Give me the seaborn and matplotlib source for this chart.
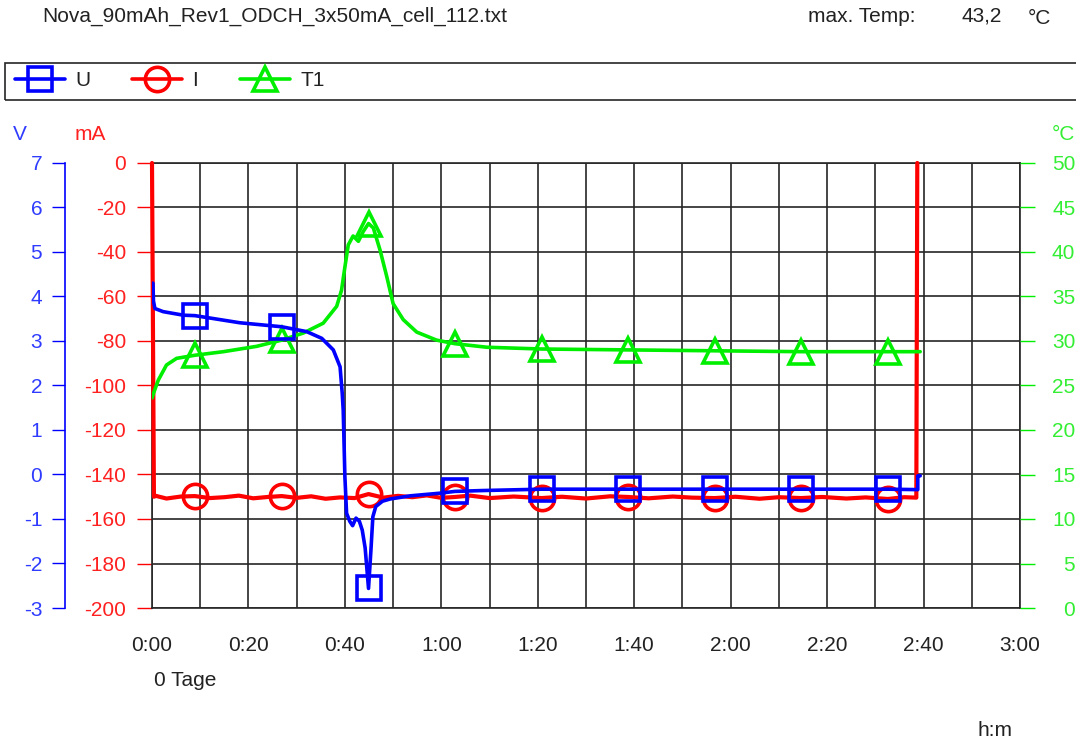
import matplotlib
matplotlib.use("Agg")
import matplotlib.pyplot as plt
import matplotlib.ticker as mticker
from matplotlib.lines import Line2D
from matplotlib.patches import Rectangle
import seaborn as sns

# ---------------- data ----------------
title_text = "Nova_90mAh_Rev1_ODCH_3x50mA_cell_112.txt"
max_temp_label = "max. Temp:"
max_temp_value = "43,2"
max_temp_unit = "°C"

x_tick_minutes = [0, 20, 40, 60, 80, 100, 120, 140, 160, 180]
x_tick_labels = ["0:00", "0:20", "0:40", "1:00", "1:20", "1:40", "2:00", "2:20", "2:40", "3:00"]
v_ticks = [-3, -2, -1, 0, 1, 2, 3, 4, 5, 6, 7]
i_ticks = [-200, -180, -160, -140, -120, -100, -80, -60, -40, -20, 0]
t_ticks = [0, 5, 10, 15, 20, 25, 30, 35, 40, 45, 50]

marker_minutes = [8.9, 26.9, 44.9, 62.8, 80.8, 98.7, 116.7, 134.6, 152.6]

# Voltage U (V) vs time (min)
U_t = [0.2, 0.3, 0.6, 2.3, 6.5, 8.9, 18.2, 26.9, 32.1, 35.2, 37.6, 39.0, 39.45, 39.65,
       40.0, 40.35, 41.0, 41.6, 42.3, 43.0, 43.6, 44.2, 44.9, 45.4, 45.8, 46.4, 47.8,
       49.4, 53.5, 59.7, 62.8, 68.7, 80.8, 98.7, 116.7, 134.6, 152.6, 158.8, 158.8, 159.3]
U_v = [4.30, 3.90, 3.73, 3.66, 3.58, 3.57, 3.41, 3.32, 3.21, 3.06, 2.80, 2.42, 1.82, 1.45,
       -0.05, -0.87, -1.05, -1.15, -0.98, -1.05, -1.25, -1.65, -2.56, -1.70, -0.95, -0.72, -0.60,
       -0.55, -0.48, -0.42, -0.38, -0.36, -0.33, -0.33, -0.33, -0.33, -0.33, -0.34, -0.03, -0.03]

# Current I (mA) vs time (min)
I_t = [0.0, 0.4, 0.8, 3, 6, 8.9, 12, 15, 18, 21, 24, 26.9, 30, 33, 36, 39, 42, 44.9, 48,
       51, 54, 57, 60, 62.8, 66, 70, 75, 80.8, 85, 90, 95, 98.7, 103, 108, 112, 116.7,
       121, 126, 130, 134.6, 139, 144, 148, 152.6, 156, 158.5, 158.7]
I_v = [0.0, -150.0, -149.6, -150.8, -149.9, -149.7, -150.6, -150.2, -149.5, -150.7, -150.1,
       -149.7, -150.5, -149.8, -150.9, -150.3, -150.6, -148.8, -150.4, -149.6, -150.2, -149.4,
       -150.5, -150.1, -149.5, -150.6, -149.9, -150.6, -150.0, -150.8, -149.8, -150.1, -150.7,
       -149.9, -150.4, -150.6, -150.0, -150.9, -150.2, -150.6, -150.1, -150.8, -150.3, -151.0,
       -150.2, -150.4, 0.0]

# Temperature T1 (°C) vs time (min)
T_t = [0.0, 0.3, 1.3, 3.0, 5.1, 8.9, 14.8, 21.7, 26.9, 31.4, 35.5, 38.3, 39.3, 40.0, 40.7,
       41.7, 42.8, 43.8, 44.9, 45.9, 47.3, 48.7, 50.0, 52.1, 54.9, 59.0, 62.8, 69.4, 80.8,
       98.7, 116.7, 134.6, 152.6, 159.3]
T_v = [23.6, 24.1, 25.6, 27.3, 28.05, 28.4, 28.8, 29.4, 30.1, 30.9, 32.0, 33.9, 35.7, 38.3,
       40.8, 41.8, 41.2, 42.3, 43.2, 42.7, 40.2, 37.2, 34.2, 32.4, 31.0, 30.1, 29.7, 29.3,
       29.1, 29.0, 28.9, 28.8, 28.8, 28.8]

# ---------------- styling ----------------
sns.set_style("white")
plt.rcParams["font.family"] = ["Liberation Sans", "DejaVu Sans"]
plt.rcParams["font.size"] = 15
plt.rcParams["axes.unicode_minus"] = False

BLUE = "#0000ff"
RED = "#ff0000"
GREEN = "#00ee00"
TXT = "#222222"
BLUE_T = "#2f3cff"
RED_T = "#ff2020"
GREEN_T = "#33ee33"

W, H = 1076, 743
fig = plt.figure(figsize=(W / 100, H / 100), dpi=100)
L, R, T, B = 152, 1020, 163, 608
axI = fig.add_axes([L / W, 1 - B / H, (R - L) / W, (B - T) / H])
axT = axI.twinx()
axV = axI.twinx()

def idx(ts):
    return [ts.index(m) for m in marker_minutes]

LW = 2.6
MS = 17.5
sns.lineplot(x=I_t, y=I_v, ax=axI, estimator=None, sort=False, color=RED, lw=3.0,
             marker="o", markevery=idx(I_t), markersize=MS, markerfacecolor="none",
             markeredgecolor=RED, markeredgewidth=LW, clip_on=False, zorder=3)
sns.lineplot(x=T_t, y=T_v, ax=axT, estimator=None, sort=False, color=GREEN, lw=LW,
             marker="^", markevery=idx(T_t), markersize=MS, markerfacecolor="none",
             markeredgecolor=GREEN, markeredgewidth=LW, zorder=3)
sns.lineplot(x=U_t, y=U_v, ax=axV, estimator=None, sort=False, color=BLUE, lw=LW,
             marker="s", markevery=idx(U_t), markersize=MS, markerfacecolor="none",
             markeredgecolor=BLUE, markeredgewidth=LW, zorder=3)

for a in (axI, axT, axV):
    a.set_xlabel("")
    a.set_ylabel("")
    a.set_xlim(0, 180)

axI.set_ylim(-200, 0)
axV.set_ylim(-3, 7)
axT.set_ylim(0, 50)

# x axis
axI.set_xticks(x_tick_minutes)
axI.set_xticklabels(x_tick_labels)
axI.xaxis.set_minor_locator(mticker.MultipleLocator(10))
axI.tick_params(axis="x", which="major", length=9.4, width=1, color=TXT,
                labelcolor=TXT, pad=11, labelsize=15)
axI.tick_params(axis="x", which="minor", length=0)

# current axis (left, at plot edge)
axI.set_yticks(i_ticks)
axI.tick_params(axis="y", length=10.8, width=1, color=RED, labelcolor=RED_T,
                pad=8, labelsize=15)
axI.set_axisbelow(True)
axI.grid(True, which="both", axis="x", color="#262626", lw=1.2)
axI.grid(True, which="major", axis="y", color="#262626", lw=1.2)
for s in axI.spines.values():
    s.set_color("#262626")
    s.set_linewidth(1.2)

# voltage axis (left, offset)
axV.yaxis.tick_left()
axV.yaxis.set_label_position("left")
axV.set_yticks(v_ticks)
axV.tick_params(axis="y", length=9.4, width=1, color=BLUE, labelcolor=BLUE_T,
                pad=7, labelsize=15, right=False)
for k in ("top", "right", "bottom"):
    axV.spines[k].set_visible(False)
axV.spines["left"].set_visible(True)
axV.spines["left"].set_position(("axes", -87 / 868))
axV.spines["left"].set_color(BLUE)
axV.spines["left"].set_linewidth(1.2)

# temperature axis (right)
axT.set_yticks(t_ticks)
axT.tick_params(axis="y", length=10.8, width=1, color=GREEN, labelcolor=GREEN_T,
                pad=29, labelsize=15)
for lab in axT.get_yticklabels():
    lab.set_horizontalalignment("right")
for k in ("top", "left", "bottom", "right"):
    axT.spines[k].set_visible(False)

# ---------------- texts ----------------
def ftext(x, y, s, **kw):
    kw.setdefault("color", TXT)
    kw.setdefault("fontsize", 15)
    kw.setdefault("va", "center")
    fig.text(x / W, 1 - y / H, s, **kw)

ftext(42, 16, title_text, ha="left")
ftext(808, 16, max_temp_label, ha="left")
ftext(962, 16, max_temp_value, ha="left")
ftext(1028, 19, max_temp_unit, ha="left")
ftext(20, 135, "V", ha="center", color=BLUE_T)
ftext(90, 135, "mA", ha="center", color=RED_T)
ftext(1063, 135, "°C", ha="center", color=GREEN_T)
ftext(185, 681, "0 Tage", ha="center")
ftext(995, 731, "h:m", ha="center")

# ---------------- legend ----------------
fig.add_artist(Rectangle((5 / W, 1 - 100 / H), 1.2, 37 / H, transform=fig.transFigure,
                         fill=False, edgecolor="#262626", lw=1.2))
handles = [
    Line2D([], [], color=BLUE, lw=LW, marker="s", ms=MS, mfc="none", mec=BLUE, mew=LW),
    Line2D([], [], color=RED, lw=LW, marker="o", ms=MS, mfc="none", mec=RED, mew=LW),
    Line2D([], [], color=GREEN, lw=LW, marker="^", ms=MS, mfc="none", mec=GREEN, mew=LW),
]
leg = fig.legend(handles, ["U", "I", "T1"], loc="center left",
                 bbox_to_anchor=(15 / W, 1 - 81 / H), ncol=3, frameon=False,
                 handlelength=2.4, handletextpad=0.5, columnspacing=2.0,
                 borderpad=0, borderaxespad=0, fontsize=15, numpoints=1)
for t in leg.get_texts():
    t.set_color(TXT)

fig.savefig("out.png", dpi=100)
